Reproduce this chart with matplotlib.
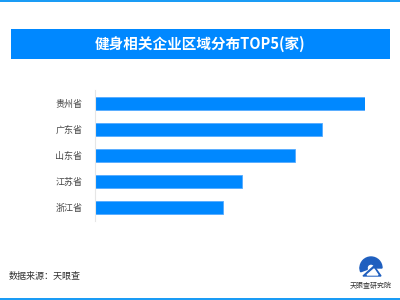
import matplotlib
matplotlib.use('Agg')
import matplotlib.pyplot as plt
from matplotlib.patches import Rectangle, Wedge, Polygon

plt.rcParams['font.family'] = ['Noto Sans CJK SC', 'DejaVu Sans']

# 数据
provinces = ['贵州省', '广东省', '山东省', '江苏省', '浙江省']
counts = [270, 227, 200, 147, 128]

title = '健身相关企业区域分布TOP5(家)'
source = '数据来源：天眼查'
blue = '#0088ff'

fig = plt.figure(figsize=(4, 3), dpi=100)

# 上下蓝色细条
fig.add_artist(Rectangle((0, 1 - 2 / 300), 1, 2 / 300, transform=fig.transFigure, color='#1a9cf5', lw=0))
fig.add_artist(Rectangle((0, 0), 1, 2 / 300, transform=fig.transFigure, color='#1a9cf5', lw=0))

# 标题框
fig.add_artist(Rectangle((11 / 400, 1 - 59 / 300), 379 / 400, 30 / 300,
                         transform=fig.transFigure, color=blue, lw=0))
fig.text(200 / 400, 1 - 44 / 300, title, color='white', fontsize=10.5, fontweight='bold',
         ha='center', va='center')

ax = fig.add_axes([95 / 400, 1 - 221 / 300, 270 / 400, 131 / 300])
ax.barh(range(len(provinces)), counts, height=0.5, color=blue, edgecolor='#55aaff', linewidth=0.6)
ax.set_ylim(4.5, -0.5)
ax.set_xlim(0, max(counts))
ax.set_yticks(range(len(provinces)))
ax.set_yticklabels(provinces, fontsize=6.5, color='#444444')
ax.set_xticks([])
ax.tick_params(axis='y', length=0, pad=9)
for s in ['top', 'right', 'bottom']:
    ax.spines[s].set_visible(False)
ax.spines['left'].set_color('#e6e6e6')
ax.spines['left'].set_linewidth(0.8)

# 数据来源
fig.text(9 / 400, 1 - 276 / 300, source, fontsize=6.5, color='#333333', ha='left', va='center')

# 标志
lax = fig.add_axes([350 / 400, 1 - 290 / 300, 42 / 400, 40 / 300])
lax.set_xlim(0, 42)
lax.set_ylim(0, 40)
lax.axis('off')
lax.add_patch(Wedge((21, 22), 11, 0, 180, width=7, color='#1f5fbf'))
lax.add_patch(Wedge((21, 22), 11, 180, 200, width=7, color='#1f5fbf'))
lax.add_patch(Polygon([[13, 14], [24, 24], [31, 14]], closed=True, color='#1f5fbf'))
lax.add_patch(Polygon([[17, 15], [24, 21], [28, 15]], closed=True, color='white'))
lax.text(21, 4, '天眼查研究院', fontsize=5, color='#333333', ha='center', va='center')

fig.savefig('out.png', dpi=100)
